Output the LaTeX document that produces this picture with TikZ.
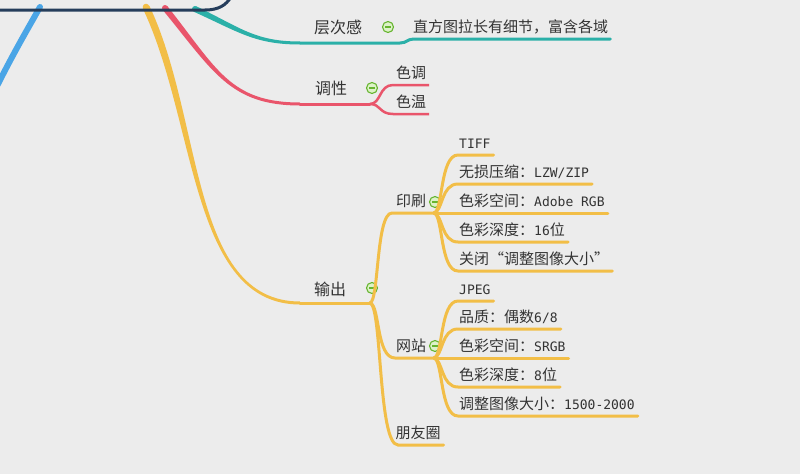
\documentclass[tikz,border=0pt]{standalone}
\usepackage{fontspec}
\setmainfont{Noto Sans CJK SC}
\setmonofont{DejaVu Sans Mono}
\usetikzlibrary{calc}

\definecolor{bgcol}{HTML}{ECECEC}
\definecolor{txtcol}{HTML}{333333}
\definecolor{navycol}{HTML}{253D5B}
\definecolor{bluecol}{HTML}{4AA5E6}
\definecolor{outcol}{HTML}{F2BE47}
\definecolor{tonecol}{HTML}{E9556B}
\definecolor{layercol}{HTML}{2BB0A8}
\definecolor{foldcol}{HTML}{67B530}
\definecolor{foldfill}{HTML}{DDF2C8}

\newcommand{\lat}[1]{{\ttfamily\fontsize{13}{15}\selectfont #1}}

\tikzset{
  topic/.style={text=txtcol, inner sep=0pt, font=\fontsize{16}{18}\selectfont},
  sub/.style={text=txtcol, inner sep=0pt, font=\fontsize{15}{17}\selectfont},
  leaf/.style={sub, anchor=base west},
  twig/.style={line width=3pt, line cap=round},
  fold/.style={circle, draw=foldcol, fill=foldfill, line width=1.1pt, minimum size=11pt, inner sep=0pt,
    path picture={\draw[foldcol, line width=1.5pt] ([xshift=-3pt]path picture bounding box.center) -- ([xshift=3pt]path picture bounding box.center);}}
}

\begin{document}
\begin{tikzpicture}[x=1pt, y=-1pt]
        \useasboundingbox (0,0) rectangle (800,474);
        \fill[bgcol] (0,0) rectangle (800,474);

        % fork points
        \coordinate (blueTop) at (40,7);
        \coordinate (blueEnd) at (-5,90);
        \coordinate (navyStart) at (0,10);
        \coordinate (navyEnd) at (231,-3);
        \coordinate (layerBend) at (300,43);
        \coordinate (toneBend) at (300,104);
        \coordinate (toneFork) at (370,104);
        \coordinate (outBend) at (300,303);
        \coordinate (outFork) at (370,303);
        \coordinate (printFork) at (434,213);
        \coordinate (webFork) at (434,358);

        % main branches
        \draw[bluecol, line width=6pt, line cap=round] (blueTop) .. controls (30,25) and (15,50) .. (blueEnd);
        \fill[outcol] (146,7) circle (3.3pt);
        \fill[outcol] (142.8,8.5) .. controls (196.8,121.5) and (190,304.5) .. (300,304.5) -- (300,301.5) .. controls (190,301.5) and (203.2,118.5) .. (149.2,5.5) -- cycle;
        \fill[tonecol] (165,8) circle (3pt);
        \fill[tonecol] (162.7,9.9) .. controls (213.2,71.4) and (230,105.5) .. (300,105.5) -- (300,102.5) .. controls (230,102.5) and (216.8,68.6) .. (167.3,6.1) -- cycle;
        \fill[layercol] (195,9) circle (3pt);
        \fill[layercol] (193.7,11.7) .. controls (239,32.1) and (255,44.5) .. (300,44.5) -- (300,41.5) .. controls (255,41.5) and (241,27.9) .. (196.3,6.3) -- cycle;
        \draw[navycol, line width=3pt] (navyStart) -- (205,10) .. controls (219,10) and (226,5) .. (navyEnd);

        % labels
        \node (layer) [topic] at (338,27) {层次感};
        \node (layerFold) [fold] at (388,27) {};
        \node (hist) [leaf] at (413,32) {直方图拉长有细节，富含各域};
        \node (tone) [topic] at (331,88) {调性};
        \node (toneFold) [fold] at (372,88) {};
        \node (hue) [sub] at (411,73) {色调};
        \node (temp) [sub] at (411,102) {色温};
        \node (out) [topic] at (330,289) {输出};
        \node (outFold) [fold] at (372,288) {};
        \node (print) [sub] at (411,201) {印刷};
        \node (printFold) [fold] at (435,202) {};
        \node (web) [sub] at (411,346) {网站};
        \node (webFold) [fold] at (435,346) {};
        \node (moments) [sub] at (418,433) {朋友圈};

        \node (tiff) [leaf] at (459,148) {\lat{TIFF}};
        \node (lzw) [leaf] at (459,177) {无损压缩：\lat{LZW/ZIP}};
        \node (adobe) [leaf] at (459,206) {色彩空间：\lat{Adobe RGB}};
        \node (depthP) [leaf] at (459,235) {色彩深度：\lat{16}位};
        \node (resize) [leaf] at (459,264) {关闭“调整图像大小”};
        \node (jpeg) [leaf] at (459,294) {\lat{JPEG}};
        \node (quality) [leaf] at (459,322) {品质：偶数\lat{6/8}};
        \node (srgb) [leaf] at (459,351) {色彩空间：\lat{SRGB}};
        \node (depthW) [leaf] at (459,380) {色彩深度：\lat{8}位};
        \node (size) [leaf] at (459,409) {调整图像大小：\lat{1500-2000}};

        % layer
        \draw[twig, layercol] (layerBend) -- (400,43) .. controls (407,43) and (407,39) .. (414,39) -- ($(hist.base east)+(2,7)$);

        % tone
        \draw[twig, tonecol] (toneBend) -- (toneFork);
        \draw[line width=2.5pt, tonecol] (toneFork) .. controls (381,104) and (379,85) .. (393,85) -- ($(hue.east)+(3,12)$);
        \draw[line width=2.5pt, tonecol] (toneFork) .. controls (381,104) and (379,114) .. (393,114) -- ($(temp.east)+(3,12)$);

        % output
        \draw[twig, outcol] (outBend) -- (outFork);
        \draw[twig, outcol] (outFork) .. controls (379,301) and (376,213) .. (392,213) -- (printFork);
        \draw[twig, outcol] (outFork) .. controls (380,305) and (376,358) .. (395,358) -- (webFork);
        \draw[twig, outcol] (outFork) .. controls (382,305) and (378,445) .. (398,445) -- ($(moments.east)+(3,12)$);

        \draw[twig, outcol] (printFork) .. controls (443,211) and (440,155) .. (458,155) -- ($(tiff.base east)+(3,7)$);
        \draw[twig, outcol] (printFork) .. controls (443,211) and (441,184) .. (458,184) -- ($(lzw.base east)+(3,7)$);
        \draw[twig, outcol] (printFork) -- ($(adobe.base east)+(3,7)$);
        \draw[twig, outcol] (printFork) .. controls (443,215) and (441,242) .. (458,242) -- ($(depthP.base east)+(3,7)$);
        \draw[twig, outcol] (printFork) .. controls (443,215) and (440,271) .. (458,271) -- ($(resize.base east)+(3,7)$);

        \draw[twig, outcol] (webFork) .. controls (443,356) and (440,301) .. (458,301) -- ($(jpeg.base east)+(3,7)$);
        \draw[twig, outcol] (webFork) .. controls (443,356) and (441,329) .. (458,329) -- ($(quality.base east)+(3,7)$);
        \draw[twig, outcol] (webFork) -- ($(srgb.base east)+(3,7)$);
        \draw[twig, outcol] (webFork) .. controls (443,360) and (441,387) .. (458,387) -- ($(depthW.base east)+(3,7)$);
        \draw[twig, outcol] (webFork) .. controls (443,360) and (440,416) .. (458,416) -- ($(size.base east)+(3,7)$);
      \end{tikzpicture}
\end{document}
